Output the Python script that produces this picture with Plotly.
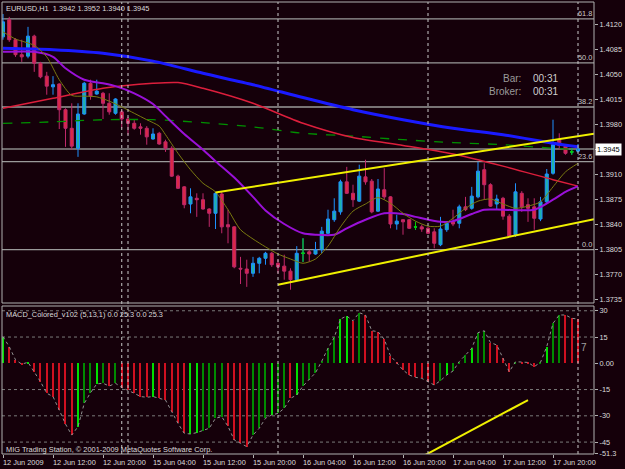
import plotly.graph_objects as go

# ---------------- data ----------------
bars = list(range(93))
opens = [1.4102,1.4126,1.4098,1.4077,1.4075,1.4103,1.4065,1.4047,1.4032,1.4036,
         1.4000,1.3974,1.3946,1.3994,1.4037,1.4022,1.4023,1.4009,1.3995,1.3997,
         1.3987,1.3981,1.3976,1.3974,1.3959,1.3967,1.3955,1.3946,1.3907,1.3892,
         1.3868,1.3876,1.3874,1.3861,1.3855,1.3882,1.3839,1.3836,1.3778,1.3777,
         1.3771,1.3785,1.3792,1.3799,1.3785,1.3781,1.3774,1.3762,1.3799,1.3801,
         1.3798,1.3804,1.3827,1.3846,1.3857,1.3899,1.3883,1.3872,1.3906,1.3900,
         1.3858,1.3888,1.3878,1.3840,1.3846,1.3846,1.3836,1.3836,1.3834,1.3829,
         1.3811,1.3832,1.3843,1.3841,1.3864,1.3862,1.3878,1.3916,1.3895,1.3868,
         1.3876,1.3851,1.3825,1.3883,1.3867,1.3864,1.3847,1.3871,1.3911,1.3958,
         1.3949,1.3941,1.3942]
highs = [1.4134,1.4130,1.4100,1.4098,1.4116,1.4105,1.4067,1.4053,1.4047,1.4037,
         1.4002,1.4009,1.4009,1.4039,1.4042,1.4042,1.4025,1.4023,1.4016,1.4000,
         1.3990,1.3986,1.3981,1.3977,1.3974,1.3969,1.3958,1.3949,1.3909,1.3893,
         1.3890,1.3883,1.3883,1.3862,1.3885,1.3885,1.3860,1.3837,1.3794,1.3790,
         1.3794,1.3794,1.3801,1.3801,1.3790,1.3797,1.3778,1.3809,1.3820,1.3804,
         1.3815,1.3836,1.3860,1.3876,1.3902,1.3920,1.3895,1.3923,1.3930,1.3903,
         1.3903,1.3918,1.3879,1.3853,1.3847,1.3847,1.3843,1.3839,1.3836,1.3834,
         1.3850,1.3844,1.3860,1.3867,1.3878,1.3892,1.3927,1.3925,1.3897,1.3881,
         1.3878,1.3854,1.3897,1.3886,1.3876,1.3876,1.3878,1.3917,1.3986,1.3967,
         1.3951,1.3946,1.3952]
lows = [1.4098,1.4095,1.4074,1.4067,1.4072,1.4053,1.4044,1.4021,1.4021,1.3973,
        1.3948,1.3944,1.3934,1.3993,1.4014,1.4021,1.3987,1.3993,1.3993,1.3974,
        1.3965,1.3972,1.3965,1.3951,1.3958,1.3951,1.3941,1.3906,1.3889,1.3862,
        1.3855,1.3850,1.3860,1.3836,1.3833,1.3827,1.3813,1.3778,1.3756,1.3752,
        1.3766,1.3771,1.3783,1.3780,1.3771,1.3762,1.3748,1.3760,1.3787,1.3787,
        1.3797,1.3799,1.3826,1.3843,1.3853,1.3882,1.3864,1.3871,1.3895,1.3855,
        1.3857,1.3874,1.3834,1.3832,1.3825,1.3833,1.3832,1.3829,1.3826,1.3806,
        1.3809,1.3829,1.3837,1.3834,1.3858,1.3860,1.3876,1.3874,1.3864,1.3860,
        1.3846,1.3822,1.3822,1.3857,1.3843,1.3832,1.3844,1.3868,1.3909,1.3944,
        1.3937,1.3937,1.3940]
closes = [1.4123,1.4098,1.4077,1.4074,1.4103,1.4065,1.4046,1.4033,1.4035,1.4000,
          1.3974,1.3949,1.3994,1.4037,1.4019,1.4026,1.4009,1.3997,1.4015,1.3987,
          1.3981,1.3974,1.3974,1.3962,1.3966,1.3952,1.3946,1.3907,1.3890,1.3867,
          1.3878,1.3874,1.3861,1.3855,1.3883,1.3836,1.3836,1.3780,1.3777,1.3771,
          1.3785,1.3792,1.3799,1.3783,1.3780,1.3774,1.3762,1.3799,1.3799,1.3798,
          1.3804,1.3830,1.3847,1.3858,1.3899,1.3883,1.3874,1.3907,1.3899,1.3857,
          1.3889,1.3878,1.3840,1.3844,1.3843,1.3834,1.3836,1.3833,1.3827,1.3813,
          1.3833,1.3841,1.3840,1.3864,1.3860,1.3879,1.3914,1.3895,1.3865,1.3875,
          1.3851,1.3823,1.3885,1.3864,1.3862,1.3848,1.3871,1.3910,1.3951,1.3950,
          1.3939,1.3941,1.3945]

ma_blue_bars = [0, 8, 16, 24, 32, 40, 48, 56, 64, 72, 80, 88, 92]
ma_blue = [1.4086, 1.4084, 1.4079, 1.4068, 1.4051, 1.4035, 1.4017, 1.4000, 1.3986, 1.3974, 1.3965, 1.3953, 1.3948]
ma_red_bars = [0, 8, 16, 24, 28, 32, 40, 48, 56, 64, 72, 80, 88, 92]
ma_red = [1.4002, 1.4016, 1.4030, 1.4037, 1.4038, 1.4030, 1.4009, 1.3981, 1.3961, 1.3950, 1.3938, 1.3921, 1.3902, 1.3893]
ma_green_bars = [0, 8, 16, 24, 32, 40, 48, 56, 64, 72, 80, 88, 92]
ma_green = [1.3981, 1.3983, 1.3986, 1.3986, 1.3982, 1.3976, 1.3967, 1.3963, 1.3958, 1.3954, 1.3951, 1.3946, 1.3944]
ma_purple_bars = [0, 5, 8, 10, 13, 16, 18, 21, 24, 26, 29, 32, 34, 37, 40, 42, 45, 48, 50, 53, 55,
                  58, 61, 64, 66, 70, 72, 75, 77, 80, 85, 88, 90, 92]
ma_purple = [1.4081, 1.4081, 1.4074, 1.4058, 1.4042, 1.4037, 1.4033, 1.4023, 1.4008, 1.3991, 1.3966,
             1.3944, 1.3928, 1.3905, 1.3878, 1.3859, 1.3840, 1.3827, 1.3825, 1.3825, 1.3834,
             1.3846, 1.3855, 1.3854, 1.3850, 1.3843, 1.3844, 1.3854, 1.3860, 1.3860, 1.3860,
             1.3874, 1.3885, 1.3893]
ma_olive_bars = [0, 2, 5, 7, 9, 11, 13, 15, 17, 19, 21, 23, 25, 26, 28, 30, 32, 34, 36, 38, 40, 42,
                 44, 46, 48, 50, 52, 54, 56, 58, 60, 62, 64, 66, 68, 70, 72, 74, 76, 78, 80, 82,
                 84, 86, 88, 90, 92]
ma_olive = [1.4109, 1.4099, 1.4090, 1.4074, 1.4042, 1.4020, 1.4019, 1.4018, 1.4012, 1.4004, 1.3995,
            1.3986, 1.3977, 1.3965, 1.3939, 1.3916, 1.3897, 1.3885, 1.3860, 1.3832, 1.3819, 1.3808,
            1.3798, 1.3791, 1.3785, 1.3791, 1.3809, 1.3836, 1.3858, 1.3868, 1.3877, 1.3869,
            1.3855, 1.3844, 1.3837, 1.3837, 1.3848, 1.3862, 1.3872, 1.3875, 1.3868, 1.3862,
            1.3865, 1.3871, 1.3892, 1.3913, 1.3925]

# MACD_Colored histogram values and colour codes (g bright green, d dark green, r red)
macd = [15.2, 9.5, 2.0, -0.5, 0.6, -4.8, -10.5, -17.1, -19.0, -26.7,
        -34.7, -41.0, -36.2, -22.9, -16.8, -11.8, -11.4, -13.0, -11.4, -13.9,
        -15.3, -17.1, -19.0, -19.4, -19.0, -20.0, -21.0, -27.6, -34.3, -40.0,
        -40.4, -39.6, -38.5, -37.1, -31.4, -30.5, -36.0, -43.8, -45.7, -47.6,
        -41.0, -37.1, -31.4, -29.5, -28.6, -25.7, -20.0, -18.1, -13.0, -9.5,
        -5.4, 1.2, 8.6, 14.8, 25.3, 27.0, 24.3, 28.9, 27.6, 18.6,
        18.1, 13.7, 4.2, 0.3, -3.8, -6.7, -8.0, -8.6, -10.5, -12.4,
        -9.9, -6.7, -4.4, 1.0, 4.7, 8.6, 17.5, 18.6, 11.8, 10.5,
        2.9, -4.8, 0.9, 0.8, 0.5, -1.9, 0.6, 9.5, 22.8, 27.6,
        27.6, 25.7, 25.3]
macd_col = ("grrrgrrrrr" "rrgddgdrdr" "rrrrgrrrrr" "ggdddd" "rrrr" "dddgdd" "rg"
            "dddddd" "ggrdr" "rrrrrrrrrrr" "dgdddgddrrrr" "drrrdgddrrr")

# drawings
fib_low, fib_high = 1.3804, 1.4327
fib_levels = [0.0, 23.6, 38.2, 50.0, 61.8]
upper_trend = ([34, 92], [1.3884, 1.3963])
lower_trend = ([44, 92], [1.3755, 1.3842])
macd_trend = ([67.5, 84], [-52.5, -21.0])
separators = [19, 20, 44, 68, 92]
last_price = 1.3945

price_ticks = [1.3735, 1.3770, 1.3805, 1.3840, 1.3875, 1.3910, 1.3945, 1.3980, 1.4015, 1.4050, 1.4085, 1.4120]
macd_ticks = [30, 15, 0, -15, -30, -45, -51.3]
macd_ticktext = ["30", "15", "0.00", "-15", "-30", "-45", "-51.3"]
macd_grid = [30, 15, -15, -30, -45]
time_ticks = [0, 8, 16, 24, 32, 40, 48, 56, 64, 72, 80, 88]
time_labels = ["12 Jun 2009", "12 Jun 12:00", "12 Jun 20:00", "15 Jun 04:00", "15 Jun 12:00",
               "15 Jun 20:00", "16 Jun 04:00", "16 Jun 12:00", "16 Jun 20:00", "17 Jun 04:00",
               "17 Jun 12:00", "17 Jun 20:00"]

# ---------------- style ----------------
BG = "#15000a"
FG = "#dcdcdc"
FONT = "Liberation Sans"
FS = 7.4
XR = [-0.16, 94.56]
W, H = 625, 469
L, R, T, B = 2, 31, 2, 15
PW, PH = W - L - R, H - T - B


def px(xp):
    return (xp - L) / PW


def py(yp):
    return (H - B - yp) / PH


fig = go.Figure()

fig.add_trace(go.Candlestick(
    x=bars, open=opens, high=highs, low=lows, close=closes, xaxis="x", yaxis="y",
    increasing=dict(line=dict(color="#1e90ff", width=1), fillcolor="#20b2a8"),
    decreasing=dict(line=dict(color="#c0286a", width=1), fillcolor="#dc2846"),
    whiskerwidth=0, hoverinfo="skip"))

doji = [i for i in bars if opens[i] == closes[i]]
fig.add_trace(go.Candlestick(
    x=doji, open=[opens[i] for i in doji], high=[highs[i] for i in doji],
    low=[lows[i] for i in doji], close=[closes[i] for i in doji], xaxis="x", yaxis="y",
    increasing=dict(line=dict(color="#00d000", width=1), fillcolor="#00d000"),
    decreasing=dict(line=dict(color="#00d000", width=1), fillcolor="#00d000"),
    whiskerwidth=0, hoverinfo="skip"))

ma_specs = [
    (ma_green_bars, ma_green, "#009000", 1.3, "dash"),
    (ma_red_bars, ma_red, "#dc1e3c", 1.5, "solid"),
    (ma_blue_bars, ma_blue, "#1a1aff", 3.0, "solid"),
    (ma_purple_bars, ma_purple, "#9a10d8", 2.0, "solid"),
    (ma_olive_bars, ma_olive, "#7a7a10", 1.0, "solid"),
]
for xs, ys, col, w, dash in ma_specs:
    fig.add_trace(go.Scatter(x=xs, y=ys, mode="lines", xaxis="x", yaxis="y",
                             line=dict(color=col, width=w, dash=dash, shape="spline", smoothing=0.7),
                             hoverinfo="skip"))


def ray(pts, xend):
    (x0, x1), (y0, y1) = pts
    k = (y1 - y0) / (x1 - x0)
    return [x0, xend], [y0, y0 + k * (xend - x0)]


for pts in (upper_trend, lower_trend):
    xs, ys = ray(pts, XR[1])
    fig.add_trace(go.Scatter(x=xs, y=ys, mode="lines", xaxis="x", yaxis="y",
                             line=dict(color="#f0f000", width=2), hoverinfo="skip"))

# MACD panel
cmap = {"g": "#00e000", "d": "#008a00", "r": "#d01020"}
fig.add_trace(go.Bar(x=bars, y=macd, xaxis="x2", yaxis="y2", width=0.22,
                     marker=dict(color=[cmap[c] for c in macd_col], line=dict(width=0)),
                     hoverinfo="skip"))
fig.add_trace(go.Scatter(x=bars, y=macd, mode="lines", xaxis="x2", yaxis="y2",
                         line=dict(color="#909090", width=1, dash="dot"), hoverinfo="skip"))
fig.add_trace(go.Scatter(x=macd_trend[0], y=macd_trend[1], mode="lines", xaxis="x2", yaxis="y2",
                         line=dict(color="#f0f000", width=2), hoverinfo="skip"))

shapes = []
for lv in fib_levels:
    pr = fib_low + (fib_high - fib_low) * lv / 100.0
    shapes.append(dict(type="line", xref="paper", x0=0, x1=1, yref="y", y0=pr, y1=pr,
                       line=dict(color="#9a9a9a", width=1.3), layer="below"))
shapes.append(dict(type="line", xref="paper", x0=0, x1=1, yref="y", y0=last_price, y1=last_price,
                   line=dict(color="#8a8a8a", width=1.3), layer="below"))
for g in macd_grid:
    shapes.append(dict(type="line", xref="paper", x0=0, x1=1, yref="y2", y0=g, y1=g,
                       line=dict(color="#7a7a7a", width=1, dash="dot"), layer="below"))
for s in separators:
    shapes.append(dict(type="line", xref="x", x0=s, x1=s, yref="paper", y0=0, y1=1,
                       line=dict(color="#c8c8c8", width=1, dash="dot")))
main_dom = [py(303), 1.0]
macd_dom = [0.0, py(306)]
shapes.append(dict(type="rect", xref="paper", yref="paper", x0=0, x1=1, y0=main_dom[0], y1=1,
                   line=dict(color="#b0b0b0", width=1)))
shapes.append(dict(type="rect", xref="paper", yref="paper", x0=0, x1=1, y0=0, y1=macd_dom[1],
                   line=dict(color="#b0b0b0", width=1)))

ann = []


def txt(x, y, text, xanchor="left", size=FS, color=FG, xref="paper"):
    ann.append(dict(x=x if xref != "paper" else px(x), xref=xref, y=py(y), yref="paper",
                    text=text, showarrow=False, xanchor=xanchor, yanchor="middle",
                    font=dict(family=FONT, size=size, color=color), borderpad=0))


txt(5, 8, "EURUSD,H1  1.3942 1.3952 1.3940 1.3945")
txt(5, 314, "MACD_Colored_v102 (5,13,1) 0.0 25.3 0.0 25.3")
txt(5, 449, "MIG Trading Station, © 2001-2009 MetaQuotes Software Corp.")
txt(522, 78, "Bar:", xanchor="right", size=10, color="#9a9a9a")
txt(522, 92, "Broker:", xanchor="right", size=10, color="#9a9a9a")
txt(532, 78, "00:31", size=10, color="#cfcfcf")
txt(532, 92, "00:31", size=10, color="#cfcfcf")
txt(584, 347, "7", xanchor="center", size=10, color="#a0a0a0")
for tb, tl in zip(time_ticks, time_labels):
    txt(tb, 462, tl, xref="x2")
    ann[-1]["xshift"] = -1

for lv in fib_levels:
    pr = fib_low + (fib_high - fib_low) * lv / 100.0
    ann.append(dict(x=1, xref="paper", y=pr, yref="y", text=f"{lv:.1f}", showarrow=False,
                    xanchor="right", yanchor="bottom", xshift=-1, yshift=0, borderpad=0,
                    font=dict(family=FONT, size=FS, color="#c8c8c8")))
# current price tag replaces the axis label at the same level
ann.append(dict(x=1, xref="paper", y=last_price, yref="y", text=f"{last_price:.4f}", showarrow=False,
                xanchor="left", yanchor="middle", xshift=1, bgcolor="#ffffff", borderpad=1,
                font=dict(family=FONT, size=FS, color="#000000")))
price_ticktext = ["" if abs(v - last_price) < 1e-9 else f"{v:.4f}" for v in price_ticks]

axis_font = dict(family=FONT, size=FS, color=FG)
fig.update_layout(
    width=W, height=H, margin=dict(l=L, r=R, t=T, b=B),
    paper_bgcolor=BG, plot_bgcolor=BG, showlegend=False, bargap=0,
    xaxis=dict(domain=[0, 1], anchor="y", range=XR, showticklabels=False, showgrid=False,
               zeroline=False, rangeslider=dict(visible=False), ticks=""),
    xaxis2=dict(domain=[0, 1], anchor="y2", range=XR, matches="x", tickvals=time_ticks,
                showticklabels=False, ticks="outside", ticklen=3, tickcolor="#b0b0b0",
                showgrid=False, zeroline=False),
    yaxis=dict(domain=main_dom, anchor="x", range=[1.37294, 1.41508], side="right",
               tickvals=price_ticks, ticktext=price_ticktext,
               ticks="outside", ticklen=3, tickcolor="#b0b0b0", tickfont=axis_font,
               showgrid=False, zeroline=False),
    yaxis2=dict(domain=macd_dom, anchor="x2", range=[-51.81, 32.73], side="right",
                tickvals=macd_ticks, ticktext=macd_ticktext,
                ticks="outside", ticklen=3, tickcolor="#b0b0b0", tickfont=axis_font,
                showgrid=False, zeroline=False),
    shapes=shapes, annotations=ann,
)

fig.write_html("out.html")
